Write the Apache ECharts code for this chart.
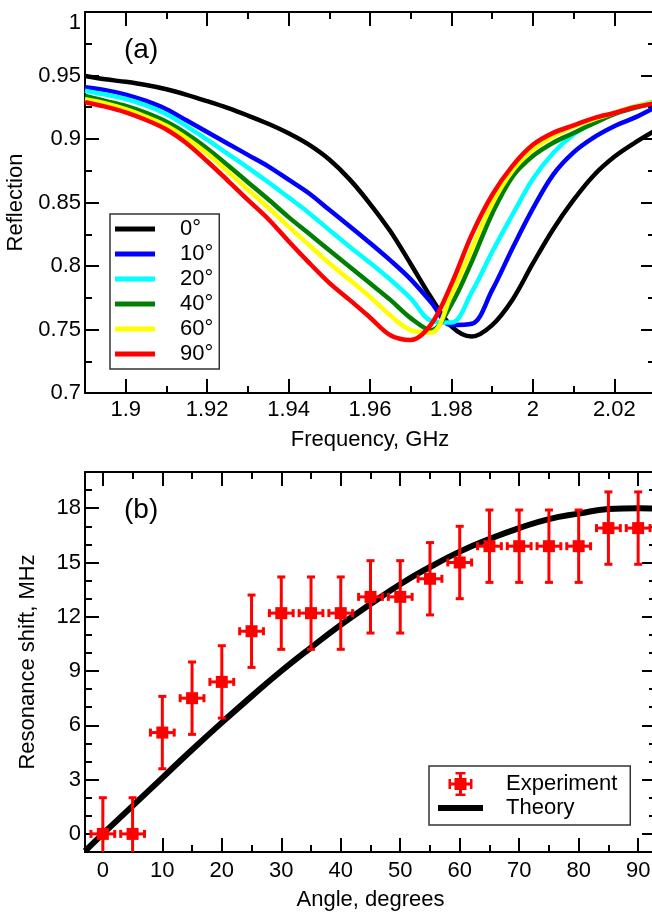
<!DOCTYPE html>
<html lang="en">
<head>
<meta charset="UTF-8">
<title>Reflection and resonance shift</title>
<script src="https://cdn.jsdelivr.net/npm/echarts@6/dist/echarts.min.js"></script>
<style>
  html, body { margin: 0; padding: 0; background: #fff; }
  #main { width: 652px; height: 912px; }
</style>
</head>
<body>
<div id="main"></div>
<script>
// (a) reflection spectra, every 5 MHz
var freq = [1.89, 1.895, 1.9, 1.905, 1.91, 1.915, 1.92, 1.925, 1.93, 1.935, 1.94, 1.945, 1.95, 1.955, 1.96,
            1.965, 1.97, 1.975, 1.98, 1.985, 1.99, 1.995, 2.0, 2.005, 2.01, 2.015, 2.02, 2.025, 2.03];
var refl0  = [0.9496, 0.947, 0.945, 0.9425, 0.9392, 0.9348, 0.9298, 0.9245, 0.9185, 0.912, 0.9045, 0.8955, 0.8838, 0.8682, 0.849,
              0.8273, 0.8016, 0.7752, 0.7525, 0.7445, 0.7535, 0.7735, 0.802, 0.829, 0.852, 0.8715, 0.886, 0.897, 0.9066];
var refl10 = [0.9407, 0.9385, 0.935, 0.930, 0.9235, 0.9145, 0.9055, 0.8965, 0.8875, 0.8785, 0.868, 0.8573, 0.8442, 0.8313, 0.8181,
              0.8044, 0.7895, 0.7715, 0.7535, 0.7545, 0.781, 0.814, 0.8452, 0.872, 0.8895, 0.9013, 0.9101, 0.9168, 0.9249];
var refl20 = [0.938, 0.935, 0.9315, 0.9265, 0.9195, 0.910, 0.8995, 0.8885, 0.8775, 0.866, 0.854, 0.8418, 0.8283, 0.8152, 0.8025,
              0.7892, 0.7745, 0.757, 0.7555, 0.7795, 0.811, 0.8404, 0.8685, 0.889, 0.9035, 0.9135, 0.9205, 0.9257, 0.9297];
var refl40 = [0.9339, 0.930, 0.926, 0.9205, 0.9135, 0.904, 0.8925, 0.8795, 0.866, 0.8525, 0.8385, 0.8255, 0.8124, 0.7995, 0.7864,
              0.7733, 0.759, 0.7495, 0.7698, 0.8035, 0.8412, 0.8704, 0.8866, 0.8971, 0.9047, 0.9124, 0.9195, 0.9245, 0.9283];
var refl60 = [0.9313, 0.928, 0.9235, 0.9175, 0.9105, 0.9005, 0.8885, 0.8745, 0.86, 0.846, 0.831, 0.8166, 0.8022, 0.7891, 0.7757,
              0.761, 0.7495, 0.7475, 0.7775, 0.8136, 0.849, 0.8751, 0.8917, 0.9022, 0.9097, 0.9155, 0.9205, 0.9255, 0.9289];
var refl90 = [0.929, 0.9255, 0.921, 0.915, 0.9075, 0.8965, 0.8825, 0.8675, 0.852, 0.837, 0.8195, 0.8027, 0.7867, 0.7733, 0.7595,
              0.7455, 0.7418, 0.754, 0.7857, 0.8247, 0.8559, 0.8788, 0.8954, 0.9048, 0.9107, 0.9165, 0.9205, 0.925, 0.9281];
var angleNames = ['0°', '10°', '20°', '40°', '60°', '90°'];
var angleColors = ['#000000', '#0000ff', '#00ffff', '#008000', '#ffff00', '#ff0000'];

var freqMajor = [1.9, 1.92, 1.94, 1.96, 1.98, 2.0, 2.02];
var freqMinor = [1.91, 1.93, 1.95, 1.97, 1.99, 2.01];
var reflLabels = [0.7, 0.75, 0.8, 0.85, 0.9, 0.95, 1];
var reflMinor = [0.725, 0.775, 0.825, 0.875, 0.925, 0.975];

// (b) resonance shift versus angle
var angles   = [0, 5, 10, 15, 20, 25, 30, 35, 40, 45, 50, 55, 60, 65, 70, 75, 80, 85, 90];
var shift    = [0, 0, 5.6, 7.5, 8.4, 11.2, 12.2, 12.2, 12.2, 13.1, 13.1, 14.1, 15.0, 15.9, 15.9, 15.9, 15.9, 16.9, 16.9];
var shiftErr = [2, 2, 2, 2, 2, 2, 2, 2, 2, 2, 2, 2, 2, 2, 2, 2, 2, 2, 2];
var angleErr = [2, 2, 2, 2, 2, 2, 2, 2, 2, 2, 2, 2, 2, 2, 2, 2, 2, 2, 2];
var theoryAngle = [-3, 0, 5, 10, 15, 20, 25, 30, 35, 40, 45, 50, 55, 60, 65, 70, 75, 80, 85, 90, 93];
var theoryShift = [-0.95, 0, 1.55, 3.1, 4.65, 6.15, 7.6, 9.0, 10.3, 11.55, 12.7, 13.8, 14.75, 15.6, 16.3, 16.9, 17.4, 17.7, 17.95, 18.0, 17.97];

var angleMajor = [0, 10, 20, 30, 40, 50, 60, 70, 80, 90];
var angleMinor = [5, 15, 25, 35, 45, 55, 65, 75, 85];
var shiftMajor = [0, 3, 6, 9, 12, 15, 18];
var shiftMinor = [1, 2, 4, 5, 7, 8, 10, 11, 13, 14, 16, 17, 19];

var FONT = "'Liberation Sans', Arial, Helvetica, sans-serif";
var fmt = function (v) { return String(parseFloat((+v).toFixed(3))); };

// four axes for one dimension of a frame: main side (line, long ticks, labels),
// its short ticks, and the mirrored ticks on the opposite side
function frameAxes(grid, dim, min, max, majors, minors, labels, extra) {
    var sides = dim === 'x' ? ['bottom', 'top'] : ['left', 'right'];
    var out = [];
    [0, 1].forEach(function (s) {
        [true, false].forEach(function (isMajor) {
            var ax = {
                type: 'value', gridIndex: grid, position: sides[s], min: min, max: max,
                splitLine: { show: false },
                axisLine: { show: isMajor, onZero: false, lineStyle: { color: '#000', width: 2 } },
                axisTick: {
                    show: true, inside: true, length: isMajor ? 14 : 7,
                    customValues: isMajor ? majors : minors,
                    lineStyle: { color: '#000', width: 2 }
                },
                axisLabel: { show: false }
            };
            if (s === 0 && isMajor) {
                ax.axisLabel = Object.assign({
                    show: true, customValues: labels, formatter: fmt,
                    color: '#000', fontSize: 22, fontFamily: FONT
                }, extra.label);
                ax.name = extra.name;
                ax.nameLocation = 'middle';
                ax.nameGap = extra.nameGap;
                ax.nameTextStyle = { color: '#000', fontSize: 22, fontFamily: FONT };
                if (dim === 'y') ax.nameRotate = 90;
            }
            out.push(ax);
        });
    });
    return out;
}

var xAxes = frameAxes(0, 'x', 1.89, 2.03, freqMajor, freqMinor, freqMajor,
        { name: 'Frequency, GHz', nameGap: 36, label: { margin: 6 } })
    .concat(frameAxes(1, 'x', -3, 93, angleMajor, angleMinor, angleMajor,
        { name: 'Angle, degrees', nameGap: 37, label: { margin: 8 } }));
var yAxes = frameAxes(0, 'y', 0.7, 1, reflLabels.slice(1, 6), reflMinor, reflLabels,
        { name: 'Reflection', nameGap: 53, label: { margin: 4, verticalAlignMaxLabel: 'top' } })
    .concat(frameAxes(1, 'y', -1, 20, shiftMajor, shiftMinor, shiftMajor,
        { name: 'Resonance shift, MHz', nameGap: 46, label: { margin: 4 } }));

var reflSets = [refl0, refl10, refl20, refl40, refl60, refl90];
var series = reflSets.map(function (vals, i) {
    return {
        name: angleNames[i], type: 'line', xAxisIndex: 0, yAxisIndex: 0,
        data: freq.map(function (f, k) { return [f, vals[k]]; }),
        showSymbol: false, symbol: 'none', smooth: 0.35,
        lineStyle: { color: angleColors[i], width: 4.5 },
        itemStyle: { color: angleColors[i] },
        z: 2 + i
    };
});

series.push({
    name: 'Theory', type: 'line', xAxisIndex: 4, yAxisIndex: 4,
    data: theoryAngle.map(function (a, k) { return [a, theoryShift[k]]; }),
    showSymbol: false, symbol: 'none', smooth: true, clip: true,
    lineStyle: { color: '#000', width: 6 }, itemStyle: { color: '#000' }, z: 2
});

series.push({
    name: 'Experiment', type: 'custom', xAxisIndex: 4, yAxisIndex: 4, clip: true, z: 3,
    itemStyle: { color: '#ff0000' },
    data: angles.map(function (a, k) { return [a, shift[k], shiftErr[k], angleErr[k]]; }),
    encode: { x: 0, y: 1 },
    renderItem: function (params, api) {
        var x = api.value(0), y = api.value(1), ey = api.value(2), ex = api.value(3);
        var c = api.coord([x, y]);
        var top = api.coord([x, y + ey]), bot = api.coord([x, y - ey]);
        var lft = api.coord([x - ex, y]), rgt = api.coord([x + ex, y]);
        var cap = 4, sq = 6;
        var st = { stroke: '#ff0000', lineWidth: 3 };
        function seg(x1, y1, x2, y2) {
            return { type: 'line', shape: { x1: x1, y1: y1, x2: x2, y2: y2 }, style: st };
        }
        return {
            type: 'group',
            children: [
                seg(c[0], top[1], c[0], bot[1]),
                seg(c[0] - cap, top[1], c[0] + cap, top[1]),
                seg(c[0] - cap, bot[1], c[0] + cap, bot[1]),
                seg(lft[0], c[1], rgt[0], c[1]),
                seg(lft[0], c[1] - cap, lft[0], c[1] + cap),
                seg(rgt[0], c[1] - cap, rgt[0], c[1] + cap),
                { type: 'rect', shape: { x: c[0] - sq, y: c[1] - sq, width: 2 * sq, height: 2 * sq },
                  style: { fill: '#ff0000' } }
            ]
        };
    }
});

var expIcon = 'path://M10.5,0h3v24h-3z M7,0h10v2.5h-10z M7,21.5h10v2.5h-10z M0,10.5h24v3h-24z ' +
              'M0,7h2.5v10h-2.5z M21.5,7h2.5v10h-2.5z M6,6h12v12h-12z';

var option = {
    animation: false,
    backgroundColor: '#fff',
    textStyle: { fontFamily: FONT },
    title: [
        { text: '(a)', left: 124, top: 36, padding: 0,
          textStyle: { fontSize: 28, fontWeight: 'normal', color: '#000', fontFamily: FONT } },
        { text: '(b)', left: 124, top: 496, padding: 0,
          textStyle: { fontSize: 28, fontWeight: 'normal', color: '#000', fontFamily: FONT } }
    ],
    grid: [
        { left: 85, top: 12, width: 570, height: 381, containLabel: false, outerBoundsMode: 'none' },
        { left: 85, top: 472, width: 571, height: 380, containLabel: false, outerBoundsMode: 'none' }
    ],
    legend: [
        {
            data: angleNames.map(function (n) { return { name: n, icon: 'rect' }; }),
            orient: 'vertical', left: 110, top: 214,
            itemWidth: 40, itemHeight: 5, itemGap: 3,
            padding: [4, 6, 4, 5],
            borderColor: '#333', borderWidth: 1.5, backgroundColor: '#fff',
            textStyle: { fontSize: 22, lineHeight: 22, color: '#000', fontFamily: FONT, padding: [0, 0, 0, 20] }
        },
        {
            data: [{ name: 'Experiment', icon: expIcon },
                   { name: 'Theory', icon: 'path://M0,0h45v6h-45z' }],
            orient: 'vertical', left: 429, top: 766,
            itemWidth: 45, itemHeight: 24, itemGap: 1, symbolKeepAspect: true,
            padding: [6, 13, 6, 9],
            borderColor: '#333', borderWidth: 1.5, backgroundColor: '#fff',
            textStyle: { fontSize: 22, lineHeight: 22, color: '#000', fontFamily: FONT, padding: [0, 0, 0, 18] }
        }
    ],
    xAxis: xAxes,
    yAxis: yAxes,
    series: series
};

var chart = echarts.init(document.getElementById('main'), null, { renderer: 'canvas' });
chart.setOption(option);
</script>
</body>
</html>
